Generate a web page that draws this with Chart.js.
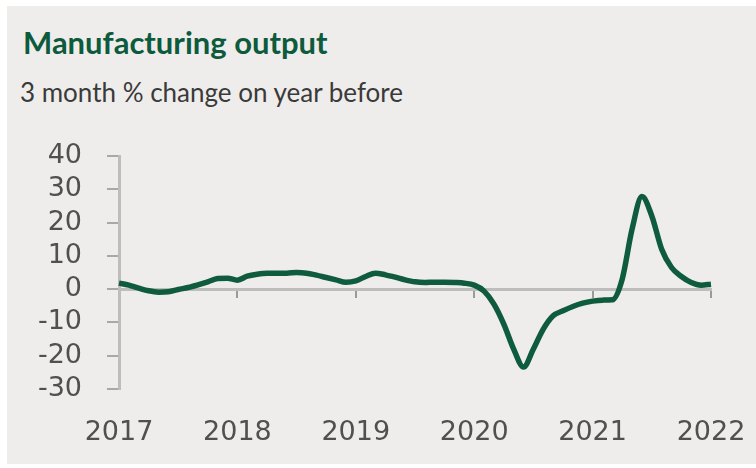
<!DOCTYPE html>
<html>
<head>
<meta charset="utf-8">
<title>Manufacturing output</title>
<script src="https://cdn.jsdelivr.net/npm/chart.js@4/dist/chart.umd.min.js"></script>
<style>
  html, body { margin: 0; padding: 0; background: #ffffff; }
  #panel {
    position: absolute; left: 7px; top: 6px; right: 0; bottom: 4px;
    background: #efedeb;
  }
  #title {
    position: absolute; left: 23px; top: 23px; margin: 0;
    font: 700 31px "Lato", sans-serif; color: #0d5a3c;
  }
  #subtitle {
    position: absolute; left: 20px; top: 76px; margin: 0;
    font: 400 26px "Lato", sans-serif; color: #3a3a3a;
  }
  #wrap { position: absolute; left: 0; top: 0; width: 756px; height: 468px; }
</style>
</head>
<body>
<div id="panel"></div>
<h1 id="title">Manufacturing output</h1>
<p id="subtitle">3 month % change on year before</p>
<div id="wrap"><canvas id="chart"></canvas></div>

<script>
// monthly observations, Jan 2017 .. Jan 2022
const MONTHS = [];
for (let y = 2017; y <= 2022; y++) {
    for (let m = 1; m <= 12; m++) {
        if (y === 2022 && m > 1) break;
        MONTHS.push(y + "-" + String(m).padStart(2, "0"));
    }
}

// % change, 3 months on same 3 months a year earlier
const OUTPUT_CHANGE = [
    1.8, 1.2, 0.3, -0.5, -0.9, -0.8, -0.1, 0.5, 1.3, 2.2, 3.2, 3.3,
    2.7, 3.9, 4.5, 4.8, 4.8, 4.8, 5.0, 4.8, 4.2, 3.5, 2.8, 2.1,
    2.5, 3.8, 4.8, 4.3, 3.6, 2.8, 2.2, 2.0, 2.1, 2.1, 2.0, 1.8,
    1.2, -0.6, -4.5, -10.5, -18, -23.4, -18, -12, -8, -6.5, -5.2, -4.2,
    -3.6, -3.3, -3.2, 3, 18, 27.8, 22, 12, 6.5, 3.8, 2, 1.2,
    1.5
];

const Y_MIN = -30;
const Y_MAX = 40;
const Y_STEP = 10;

const TICK_FONT = { family: "DejaVu Sans", size: 27 };
const TICK_COLOR = "#505050";
const AXIS_GREY = "#bdbdbd";

const isYearStart = (i) => MONTHS[i] && MONTHS[i].endsWith("-01");

// keep the plot edges where the layout padding puts them
const noEdgePadding = (s) => { s.paddingLeft = 0; s.paddingRight = 0; };

new Chart(document.getElementById("chart"), {
    type: "line",
    data: {
        labels: MONTHS,
        datasets: [{
            label: "Manufacturing output",
            data: OUTPUT_CHANGE,
            borderColor: "#0e5b3d",
            borderWidth: 5.5,
            pointRadius: 0,
            tension: 0.35,
            cubicInterpolationMode: "monotone",
            fill: false
        }]
    },
    options: {
        responsive: true,
        maintainAspectRatio: false,
        animation: false,
        layout: { padding: { top: 156, right: 45, left: 0, bottom: 0 } },
        plugins: {
            legend: { display: false },
            tooltip: { enabled: false }
        },
        scales: {
            x: {
                position: "bottom",
                grid: { display: false },
                border: { display: false },
                ticks: {
                    autoSkip: false,
                    maxRotation: 0,
                    padding: 20,
                    color: TICK_COLOR,
                    font: TICK_FONT,
                    callback: (v, i) => isYearStart(i) ? MONTHS[i].slice(0, 4) : ""
                },
                afterFit: (s) => { s.height = 79; noEdgePadding(s); }
            },
            // zero line with year ticks
            xZero: {
                type: "category",
                position: { y: 0 },
                grid: {
                    drawOnChartArea: false,
                    drawTicks: true,
                    tickLength: 7,
                    lineWidth: 2,
                    color: (ctx) => isYearStart(ctx.index) && ctx.index > 0 ? "#9a9a9a" : "rgba(0,0,0,0)"
                },
                border: { color: AXIS_GREY, width: 3 },
                ticks: { display: false, autoSkip: false },
                afterFit: (s) => { s.height = 0; noEdgePadding(s); }
            },
            y: {
                min: Y_MIN,
                max: Y_MAX,
                grid: {
                    drawOnChartArea: false,
                    drawTicks: true,
                    tickLength: 12,
                    lineWidth: 2,
                    color: "#a8a8a8"
                },
                border: { color: AXIS_GREY, width: 3 },
                ticks: {
                    stepSize: Y_STEP,
                    autoSkip: false,
                    padding: 25,
                    color: TICK_COLOR,
                    font: TICK_FONT
                },
                afterFit: (s) => { s.width = 119; }
            }
        }
    }
});
</script>
</body>
</html>
